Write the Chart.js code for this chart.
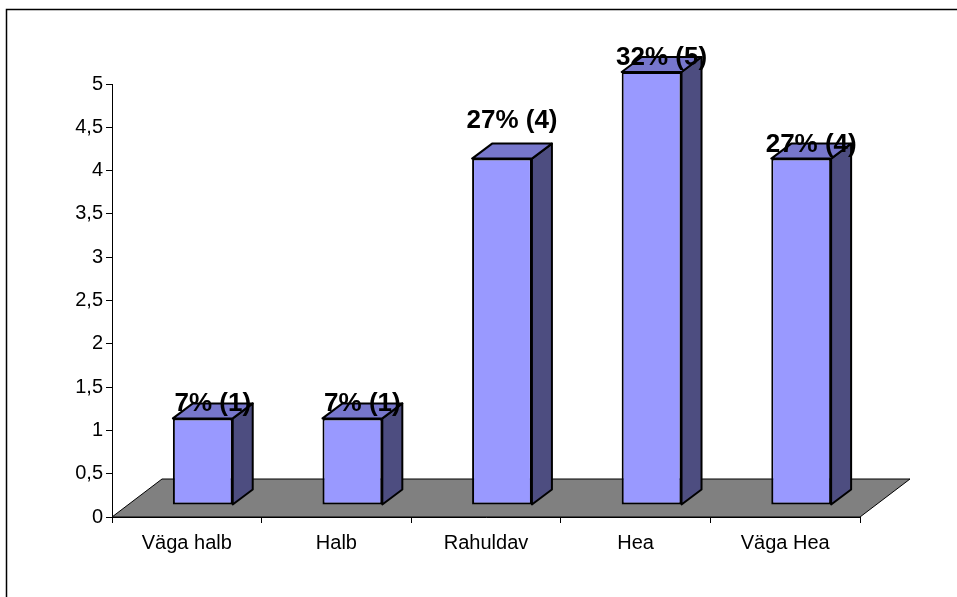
<!DOCTYPE html>
<html>
<head>
<meta charset="utf-8">
<title>Hinnangud</title>
<script src="https://cdn.jsdelivr.net/npm/chart.js@4"></script>
<style>
    body { margin: 0; background: #ffffff; }
    #chart-container { width: 957px; height: 597px; position: relative; }
</style>
</head>
<body>
<div id="chart-container">
    <canvas id="barChart" width="957" height="597"></canvas>
</div>
<script>
// Datos del gráfico
var categories = ['Väga halb', 'Halb', 'Rahuldav', 'Hea', 'Väga Hea'];
var counts = [1, 1, 4, 5, 4];
var percents = [7, 7, 27, 32, 27];
var yTicks = [0, 0.5, 1, 1.5, 2, 2.5, 3, 3.5, 4, 4.5, 5];

// Parámetros del efecto 3D
var barShiftX = 16, barShiftY = -12;   // posición de las barras dentro del piso
var depthX = 20, depthY = -15;         // profundidad de cada barra
var floorX = 50, floorY = -38;         // profundidad del piso
var labelRaise = [0, 0, 24, 0, 0];     // Excel subió la etiqueta de Rahuldav

// Marco exterior del gráfico
var framePlugin = {
    id: 'frame',
    beforeDraw: function (chart) {
        var ctx = chart.ctx;
        ctx.save();
        ctx.fillStyle = '#ffffff';
        ctx.fillRect(0, 0, chart.width, chart.height);
        ctx.strokeStyle = '#000000';
        ctx.lineWidth = 1.5;
        ctx.strokeRect(6.5, 9.5, chart.width + 20, chart.height + 20);
        ctx.restore();
    }
};

// Piso gris, caras laterales y superiores de las barras, y etiquetas
var bars3dPlugin = {
    id: 'bars3d',
    beforeDatasetsDraw: function (chart) {
        var ctx = chart.ctx;
        var area = chart.chartArea;
        ctx.save();
        ctx.beginPath();
        ctx.moveTo(area.left, area.bottom);
        ctx.lineTo(area.right, area.bottom);
        ctx.lineTo(area.right + floorX, area.bottom + floorY);
        ctx.lineTo(area.left + floorX, area.bottom + floorY);
        ctx.closePath();
        ctx.fillStyle = '#808080';
        ctx.fill();
        ctx.strokeStyle = '#000000';
        ctx.lineWidth = 1;
        ctx.stroke();
        ctx.restore();

        // las barras se dibujan desplazadas hacia el fondo del piso
        ctx.save();
        ctx.translate(barShiftX, barShiftY);
    },
    afterDatasetsDraw: function (chart) {
        var ctx = chart.ctx;
        var meta = chart.getDatasetMeta(0);

        meta.data.forEach(function (bar) {
            var p = bar.getProps(['x', 'y', 'base', 'width'], true);
            var left = p.x - p.width / 2;
            var right = p.x + p.width / 2;

            ctx.lineWidth = 2;
            ctx.strokeStyle = '#000000';
            ctx.lineJoin = 'round';

            // cara lateral
            ctx.beginPath();
            ctx.moveTo(right, p.y);
            ctx.lineTo(right + depthX, p.y + depthY);
            ctx.lineTo(right + depthX, p.base + depthY);
            ctx.lineTo(right, p.base);
            ctx.closePath();
            ctx.fillStyle = '#4d4d80';
            ctx.fill();
            ctx.stroke();

            // cara superior
            ctx.beginPath();
            ctx.moveTo(left, p.y);
            ctx.lineTo(left + depthX, p.y + depthY);
            ctx.lineTo(right + depthX, p.y + depthY);
            ctx.lineTo(right, p.y);
            ctx.closePath();
            ctx.fillStyle = '#7777cc';
            ctx.fill();
            ctx.stroke();
        });
        ctx.restore();

        // etiquetas de datos
        ctx.save();
        ctx.fillStyle = '#000000';
        ctx.font = 'bold 26px "Liberation Sans", Arial, sans-serif';
        ctx.textAlign = 'center';
        ctx.textBaseline = 'alphabetic';
        meta.data.forEach(function (bar, i) {
            var text = percents[i] + '% (' + counts[i] + ')';
            var x = bar.x + barShiftX + depthX / 2;
            var y = bar.y + barShiftY - 7 - labelRaise[i];
            ctx.fillText(text, x, y);
        });
        ctx.restore();
    }
};

var ctx = document.getElementById('barChart').getContext('2d');
var barChart = new Chart(ctx, {
    type: 'bar',
    data: {
        labels: categories,
        datasets: [{
            data: counts,
            backgroundColor: '#9999ff',
            borderColor: '#000000',
            borderWidth: 2,
            borderSkipped: false,
            barPercentage: 0.4,
            categoryPercentage: 1
        }]
    },
    options: {
        responsive: false,
        animation: false,
        layout: {
            padding: { top: 84, right: 97, bottom: 0, left: 0 }
        },
        plugins: {
            legend: { display: false },
            tooltip: { enabled: false }
        },
        scales: {
            x: {
                offset: true,
                grid: {
                    drawOnChartArea: false,
                    offset: true,
                    tickLength: 6,
                    color: '#000000'
                },
                border: { display: true, color: '#000000', width: 1 },
                ticks: {
                    color: '#000000',
                    padding: 8,
                    maxRotation: 0,
                    font: { family: '"Liberation Sans", Arial, sans-serif', size: 20 }
                },
                afterFit: function (scale) { scale.height = 80; }
            },
            y: {
                min: 0,
                max: 5,
                afterBuildTicks: function (scale) {
                    scale.ticks = yTicks.map(function (v) { return { value: v }; });
                },
                grid: {
                    drawOnChartArea: false,
                    tickLength: 6,
                    color: '#000000'
                },
                border: { display: true, color: '#000000', width: 1 },
                ticks: {
                    color: '#000000',
                    padding: 3,
                    font: { family: '"Liberation Sans", Arial, sans-serif', size: 20 },
                    callback: function (value) {
                        return String(value).replace('.', ',');
                    }
                },
                afterFit: function (scale) { scale.width = 112; }
            }
        }
    },
    plugins: [framePlugin, bars3dPlugin]
});
</script>
</body>
</html>
